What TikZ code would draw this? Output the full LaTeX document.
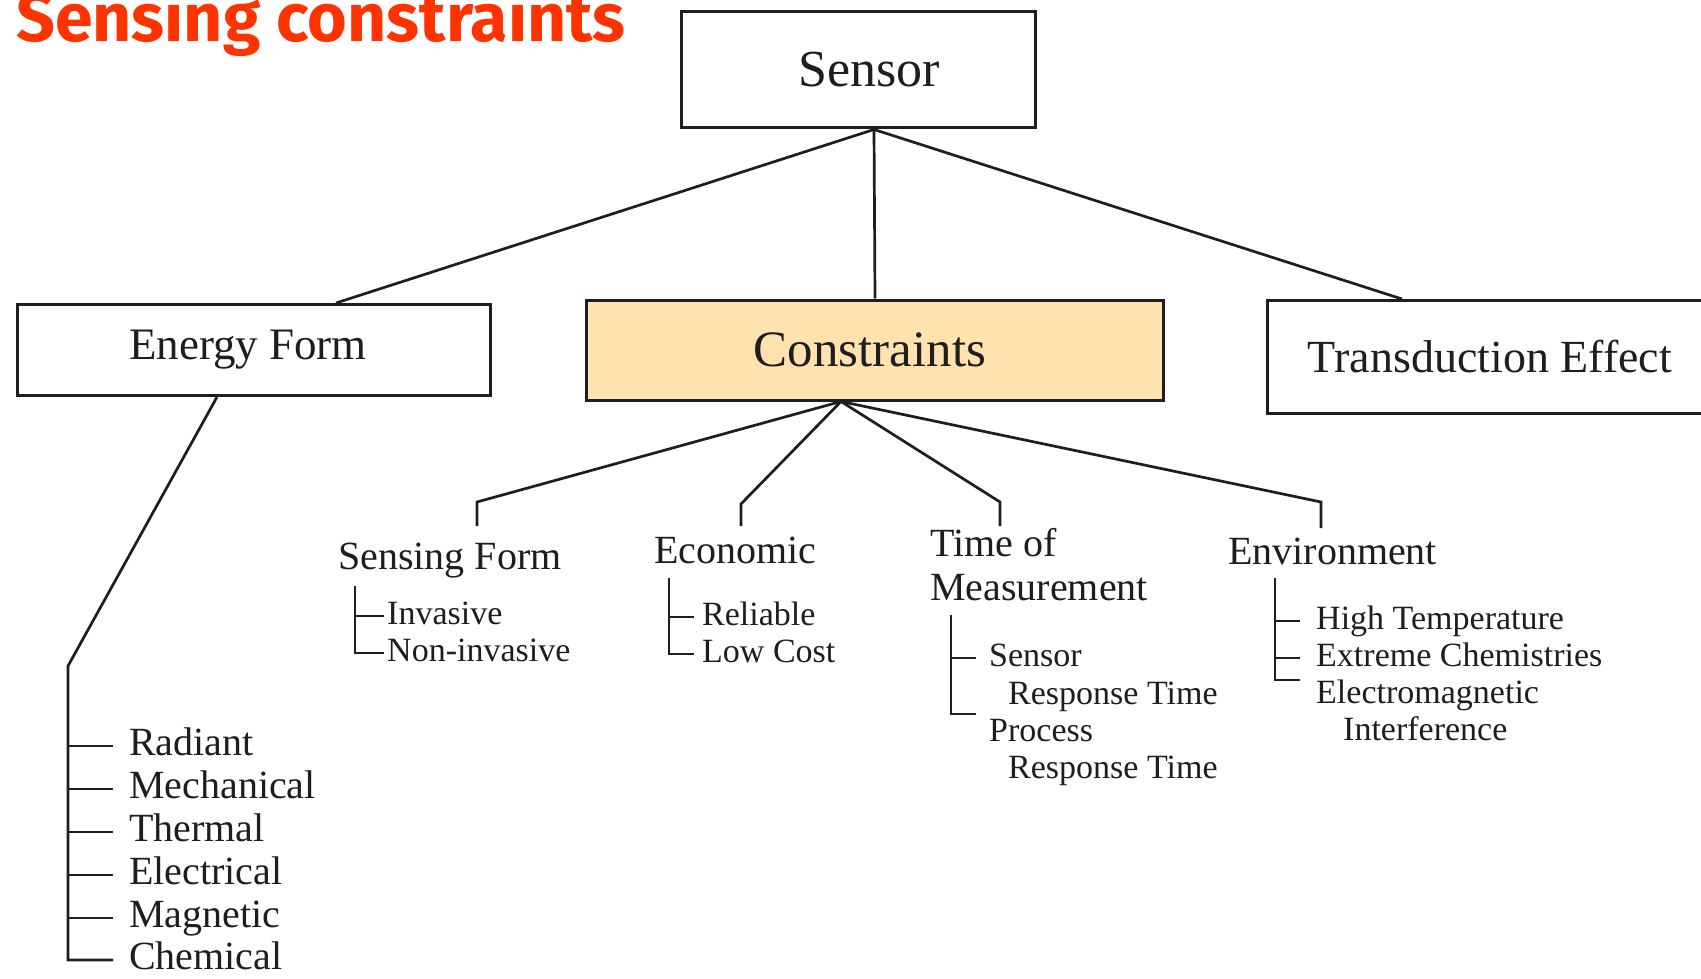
\documentclass[tikz,border=0pt]{standalone}
\usepackage{fontspec}
\setmainfont{Liberation Serif}
\newfontfamily\titlefont{Fira Sans}
\usetikzlibrary{calc}
\definecolor{titlered}{HTML}{FF3300}
\definecolor{consfill}{HTML}{FFE2AE}
\definecolor{ink}{HTML}{1E1E1E}
\begin{document}
\begin{tikzpicture}[x=1pt,y=-1pt,
  box/.style={draw=ink, line width=3pt, inner sep=0pt, text=ink},
  conn/.style={draw=ink, line width=2.7pt},
  cat/.style={anchor=west, inner sep=0pt, text=ink, font=\fontsize{40}{44}\selectfont, text height=28pt, text depth=9pt},
  leaf/.style={anchor=west, inner sep=0pt, text=ink, font=\fontsize{40}{44}\selectfont, text height=28pt, text depth=9pt},
  item/.style={anchor=west, inner sep=0pt, text=ink, font=\fontsize{34}{38}\selectfont, text height=24pt, text depth=8pt},
]
\clip (0,0) rectangle (1701,979);
\fill[white] (0,0) rectangle (1701,979);

% title
\node[anchor=base west, inner sep=0pt, text=titlered, font=\titlefont\bfseries\fontsize{68}{72}\selectfont] (title) at (16,42) {Sensing constraints};

% main boxes
\node[box, minimum width=354, minimum height=116, font=\fontsize{52}{56}\selectfont] (sensor) at (858,70) {\hspace*{22pt}Sensor};
\node[box, minimum width=473, minimum height=91, font=\fontsize{45}{50}\selectfont] (ef) at (254,350) {Energy Form\hspace*{12pt}};
\node[box, fill=consfill, minimum width=577, minimum height=100, font=\fontsize{51}{56}\selectfont] (cons) at (875,350) {Constraints\hspace*{10pt}};
\node[box, minimum width=446, minimum height=113, font=\fontsize{46}{50}\selectfont] (td) at (1490,357) {Transduction Effect};

\coordinate (hub) at ([xshift=16]sensor.south);
\draw[conn] (hub) -- ([xshift=82]ef.north);
\draw[conn] (hub) -- (cons.north);
\draw[conn] (hub) -- ([xshift=-88]td.north);

% energy form leaves
\node[leaf] (rad) at (129,746) {Radiant};
\node[leaf] (mech) at (129,789) {Mechanical};
\node[leaf] (therm) at (129,832) {Thermal};
\node[leaf] (elec) at (129,875) {Electrical};
\node[leaf] (magn) at (129,918) {Magnetic};
\node[leaf] (chem) at (129,960) {Chemical};
\coordinate (efb) at (68,666);
\draw[conn] ([xshift=-37]ef.south) -- (efb) -- (efb |- chem.west) -- ([xshift=-16]chem.west);
\foreach \n in {rad,mech,therm,elec,magn}
  \draw[conn] (efb |- \n.west) -- ([xshift=-16]\n.west);

% constraint categories
\coordinate (chub) at ([xshift=-34]cons.south);
\node[cat] (sf) at (338,560) {Sensing Form};
\node[cat] (eco) at (654,554) {Economic};
\node[cat] (tm1) at (930,547) {Time of};
\node[cat] (tm2) at (930,591) {Measurement};
\node[cat] (env) at (1228,555) {Environment};

\coordinate (sfe) at (477,502); \coordinate (sfd) at (477,526);
\coordinate (ecoe) at (741,504); \coordinate (ecod) at (741,526);
\coordinate (tme) at (1000,502); \coordinate (tmd) at (1000,526);
\coordinate (enve) at (1321,502); \coordinate (envd) at (1321,528);
\draw[conn] (chub) -- (sfe) -- (sfd);
\draw[conn] (chub) -- (ecoe) -- (ecod);
\draw[conn] (chub) -- (tme) -- (tmd);
\draw[conn] (chub) -- (enve) -- (envd);

% sensing form items
\node[item] (inv) at (387,616) {Invasive};
\node[item] (ninv) at (387,653) {Non-invasive};
\coordinate (sfs) at (355,586);
\draw[conn] (sfs) -- (sfs |- ninv.west) -- ([xshift=-3]ninv.west);
\draw[conn] (sfs |- inv.west) -- ([xshift=-3]inv.west);

% economic items
\node[item] (rel) at (702,617) {Reliable};
\node[item] (low) at (702,654) {Low Cost};
\coordinate (ecs) at (669,578);
\draw[conn] (ecs) -- (ecs |- low.west) -- ([xshift=-8]low.west);
\draw[conn] (ecs |- rel.west) -- ([xshift=-8]rel.west);

% time of measurement items
\node[item] (sen) at (989,658) {Sensor};
\node[item] (rt1) at (1008,696) {Response Time};
\node[item] (proc) at (989,733) {Process};
\node[item] (rt2) at (1008,770) {Response Time};
\coordinate (tms) at (951,615);
\coordinate (tmk) at (951,714);
\coordinate (tmke) at (976,714);
\draw[conn] (tms) -- (tmk) -- (tmke);
\draw[conn] (tms |- sen.west) -- ([xshift=-13]sen.west);

% environment items
\node[item] (high) at (1316,621) {High Temperature};
\node[item] (ext) at (1316,658) {Extreme Chemistries};
\node[item] (em1) at (1316,695) {Electromagnetic};
\node[item] (em2) at (1343,732) {Interference};
\coordinate (ens) at (1275,578);
\coordinate (enk) at (1275,680);
\coordinate (enke) at (1300,680);
\draw[conn] (ens) -- (enk) -- (enke);
\draw[conn] (ens |- high.west) -- ([xshift=-16]high.west);
\draw[conn] (ens |- ext.west) -- ([xshift=-16]ext.west);
\end{tikzpicture}
\end{document}
